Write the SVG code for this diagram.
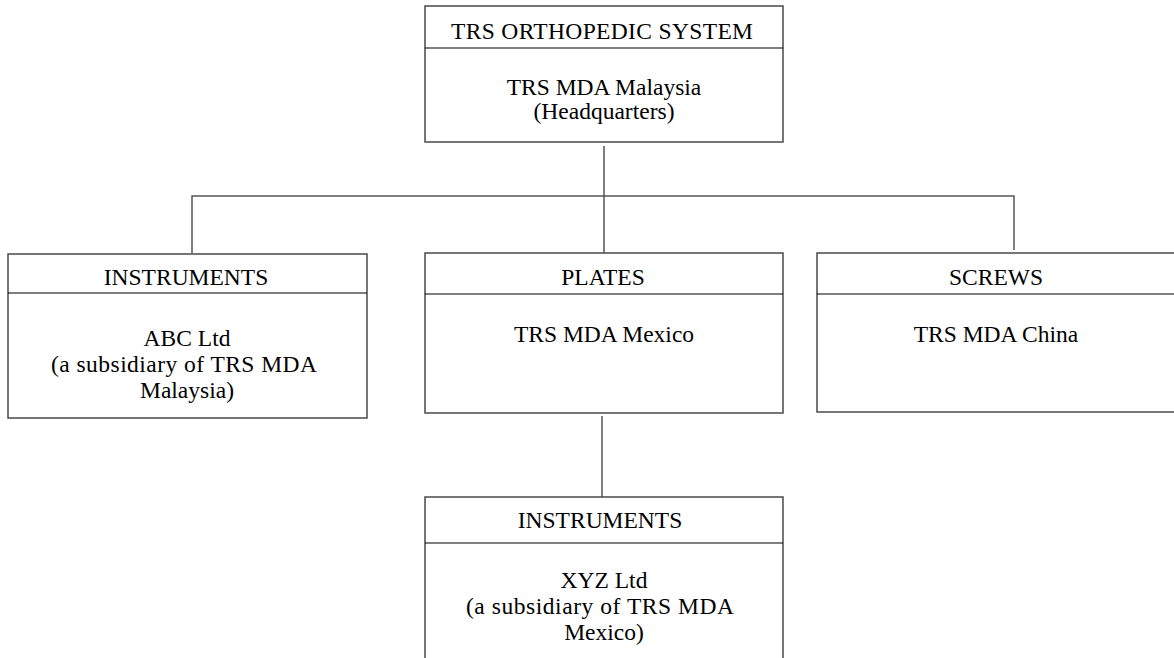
<svg xmlns="http://www.w3.org/2000/svg" width="1174" height="658" viewBox="0 0 1174 658">
<style>
.box{fill:#fff;stroke:#4a4a4a;stroke-width:1.5}
.div{stroke:#000;stroke-width:1.2}
.con{fill:none;stroke:#555;stroke-width:1.5}
text{font-family:"Liberation Serif","Times New Roman",serif;font-size:23.5px;fill:#000;text-anchor:middle}
</style>
<rect width="1174" height="658" fill="#fff"/>
<g id="connectors">
<line class="con" x1="604" y1="146" x2="604" y2="254"/>
<polyline class="con" points="192,253 192,196 1014,196 1014,250"/>
<line class="con" x1="602" y1="416" x2="602" y2="497"/>
</g>
<g id="node-hq">
<rect class="box" x="425" y="6" width="358" height="136"/>
<line class="div" x1="425" y1="48" x2="783" y2="48"/>
<text x="602" y="39" textLength="302" lengthAdjust="spacing">TRS ORTHOPEDIC SYSTEM</text>
<text x="604" y="95">TRS MDA Malaysia</text>
<text x="604" y="119">(Headquarters)</text>
</g>
<g id="node-instruments-abc">
<rect class="box" x="8" y="254" width="359" height="164"/>
<line class="div" x1="8" y1="293" x2="367" y2="293"/>
<text x="186" y="285">INSTRUMENTS</text>
<text x="187" y="346">ABC Ltd</text>
<text x="184" y="372" textLength="266" lengthAdjust="spacing">(a subsidiary of TRS MDA</text>
<text x="187" y="398">Malaysia)</text>
</g>
<g id="node-plates">
<rect class="box" x="425" y="253" width="358" height="160"/>
<line class="div" x1="425" y1="294" x2="783" y2="294"/>
<text x="603" y="285">PLATES</text>
<text x="604" y="342">TRS MDA Mexico</text>
</g>
<g id="node-screws">
<rect class="box" x="817" y="253" width="358" height="159"/>
<line class="div" x1="817" y1="294" x2="1175" y2="294"/>
<text x="996" y="285">SCREWS</text>
<text x="996" y="342">TRS MDA China</text>
</g>
<g id="node-instruments-xyz">
<rect class="box" x="425" y="497" width="358" height="175"/>
<line class="div" x1="425" y1="543" x2="783" y2="543"/>
<text x="600" y="528">INSTRUMENTS</text>
<text x="604" y="588">XYZ Ltd</text>
<text x="600" y="614" textLength="268" lengthAdjust="spacing">(a subsidiary of TRS MDA</text>
<text x="604" y="640">Mexico)</text>
</g>
</svg>
